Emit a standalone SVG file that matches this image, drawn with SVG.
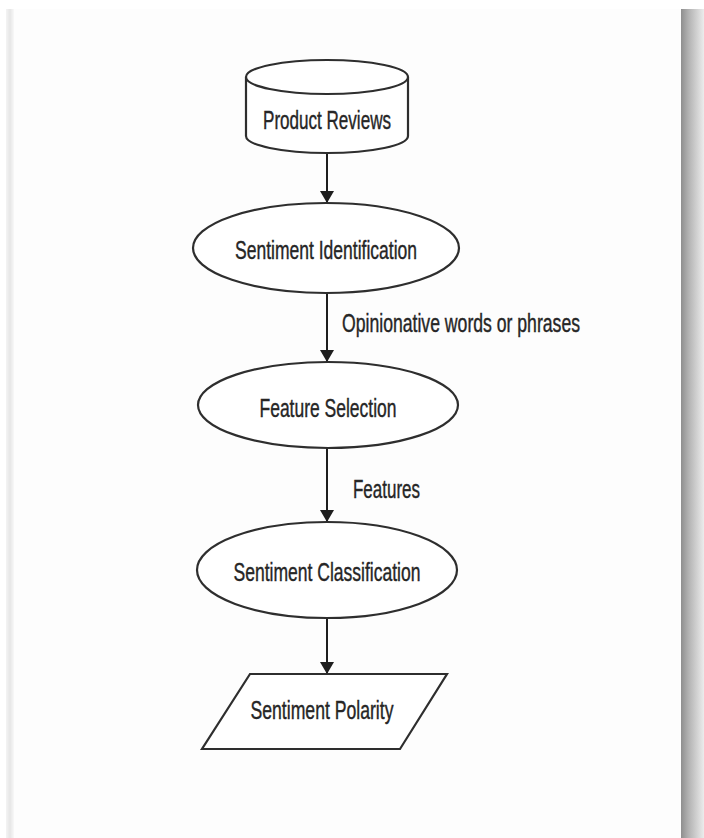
<svg xmlns="http://www.w3.org/2000/svg" width="704" height="838" viewBox="0 0 704 838">
  <defs>
    <linearGradient id="edgeShade" x1="0" y1="0" x2="1" y2="0">
      <stop offset="0" stop-color="#8e8e8e"/>
      <stop offset="0.35" stop-color="#b4b4b4"/>
      <stop offset="1" stop-color="#ececec"/>
    </linearGradient>
    <linearGradient id="leftShade" x1="0" y1="0" x2="1" y2="0">
      <stop offset="0" stop-color="#f4f4f4"/>
      <stop offset="0.5" stop-color="#e6e6e6"/>
      <stop offset="1" stop-color="#f8f8f8"/>
    </linearGradient>
    <marker id="arrow" viewBox="0 0 12 16" refX="12" refY="8" markerWidth="12" markerHeight="16" markerUnits="userSpaceOnUse" orient="auto">
      <path d="M0,1 L12,8 L0,15 Z" fill="#1e1e1e"/>
    </marker>
    <style>
      .shape { fill: #ffffff; stroke: #2e2e2e; stroke-width: 2.2; }
      .label { font-family: "Liberation Sans", Arial, sans-serif; font-size: 25px; fill: #262626; stroke: #262626; stroke-width: 0.4; text-anchor: middle; }
      .edge-label { font-family: "Liberation Sans", Arial, sans-serif; font-size: 25px; fill: #262626; stroke: #262626; stroke-width: 0.4; }
      .connector { stroke: #1e1e1e; stroke-width: 2; fill: none; }
    </style>
  </defs>

  <!-- page -->
  <rect x="0" y="0" width="704" height="838" fill="#ffffff"/>
  <rect x="13" y="9" width="668" height="829" fill="#fdfdfd"/>
  <rect x="6" y="9" width="8" height="829" fill="url(#leftShade)"/>
  <rect x="681" y="9" width="23" height="829" fill="url(#edgeShade)"/>

  <!-- connectors -->
  <g id="connectors">
    <line class="connector" x1="327" y1="154" x2="327" y2="203" marker-end="url(#arrow)"/>
    <line class="connector" x1="327" y1="293" x2="327" y2="362" marker-end="url(#arrow)"/>
    <line class="connector" x1="327" y1="448" x2="327" y2="522" marker-end="url(#arrow)"/>
    <line class="connector" x1="327" y1="618" x2="327" y2="674" marker-end="url(#arrow)"/>
    <text class="edge-label" x="342" y="332" textLength="238" lengthAdjust="spacingAndGlyphs">Opinionative words or phrases</text>
    <text class="edge-label" x="353" y="498" textLength="67" lengthAdjust="spacingAndGlyphs">Features</text>
  </g>

  <!-- data source -->
  <g id="product-reviews">
    <path class="shape" d="M246,77 L246,136 A81,17 0 0 0 408,136 L408,77"/>
    <ellipse class="shape" cx="327" cy="77" rx="81" ry="17"/>
    <text class="label" x="327" y="129" textLength="128" lengthAdjust="spacingAndGlyphs">Product Reviews</text>
  </g>

  <g id="sentiment-identification">
    <ellipse class="shape" cx="326" cy="248" rx="133" ry="45"/>
    <text class="label" x="326" y="259" textLength="182" lengthAdjust="spacingAndGlyphs">Sentiment Identification</text>
  </g>

  <g id="feature-selection">
    <ellipse class="shape" cx="328" cy="405" rx="130" ry="43"/>
    <text class="label" x="328" y="417" textLength="137" lengthAdjust="spacingAndGlyphs">Feature Selection</text>
  </g>

  <g id="sentiment-classification">
    <ellipse class="shape" cx="327" cy="570" rx="130" ry="48"/>
    <text class="label" x="327" y="581" textLength="187" lengthAdjust="spacingAndGlyphs">Sentiment Classification</text>
  </g>

  <!-- output -->
  <g id="sentiment-polarity">
    <polygon class="shape" points="250,674 447,674 400,749 202,749"/>
    <text class="label" x="322" y="719" textLength="143" lengthAdjust="spacingAndGlyphs">Sentiment Polarity</text>
  </g>
</svg>
